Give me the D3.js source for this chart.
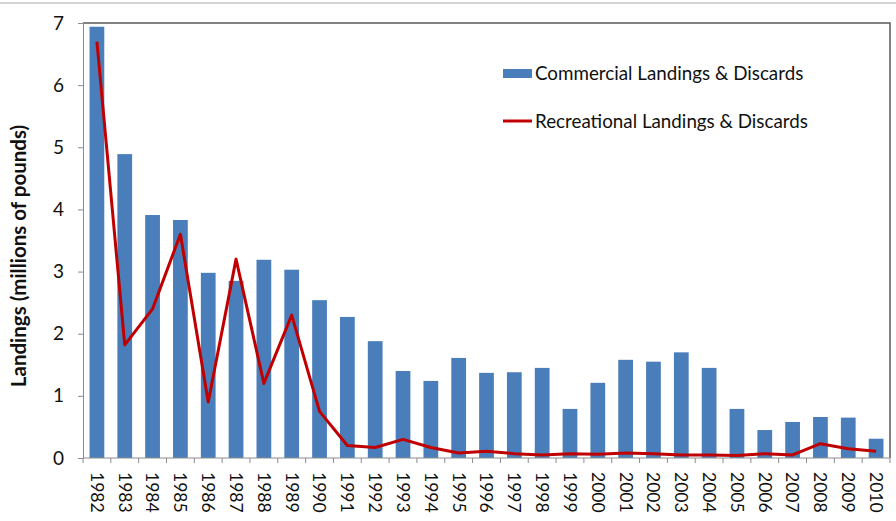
<!DOCTYPE html>
<html>
<head>
<meta charset="utf-8">
<script src="https://cdn.jsdelivr.net/npm/d3@7"></script>
<style>
  body { margin: 0; background: #fff; }
  text { font-family: Lato, "Open Sans", sans-serif; fill: #111; }
</style>
</head>
<body>
<div id="chart"></div>
<script>
const years = ["1982","1983","1984","1985","1986","1987","1988","1989","1990","1991",
    "1992","1993","1994","1995","1996","1997","1998","1999","2000","2001",
    "2002","2003","2004","2005","2006","2007","2008","2009","2010"];
const commercial = [6.94, 4.89, 3.91, 3.83, 2.98, 2.85, 3.19, 3.03, 2.54, 2.27,
    1.88, 1.40, 1.24, 1.61, 1.37, 1.38, 1.45, 0.79, 1.21, 1.58,
    1.55, 1.70, 1.45, 0.79, 0.45, 0.58, 0.66, 0.65, 0.31];
const recreational = [6.70, 1.82, 2.40, 3.60, 0.90, 3.20, 1.20, 2.30, 0.75, 0.20,
    0.17, 0.30, 0.17, 0.08, 0.11, 0.07, 0.05, 0.07, 0.06, 0.08,
    0.07, 0.05, 0.05, 0.04, 0.07, 0.05, 0.23, 0.15, 0.11];
const yTicks = [0, 1, 2, 3, 4, 5, 6, 7];
const seriesNames = ["Commercial Landings & Discards", "Recreational Landings & Discards"];

const margin = { top: 23, right: 6, bottom: 63, left: 83 };
const width = 896 - margin.left - margin.right;
const height = 521 - margin.top - margin.bottom;

const root = d3.select("#chart").append("svg")
    .attr("width", 896)
    .attr("height", 521);

// faint rule at very top of the picture
root.append("line")
    .attr("x1", 0).attr("x2", 896)
    .attr("y1", 3).attr("y2", 3)
    .style("stroke", "#d4d4d4")
    .style("stroke-width", 2);

const svg = root.append("g")
    .attr("transform", "translate(" + margin.left + "," + margin.top + ")");

// scales
const x = d3.scaleBand()
    .range([0, width])
    .domain(years)
    .paddingInner(0.47)
    .paddingOuter(0.235);

const y = d3.scaleLinear()
    .range([height, 0])
    .domain([0, 7]);

// plot frame: top and right
svg.append("path")
    .attr("d", `M0,0H${width}V${height}`)
    .style("fill", "none")
    .style("stroke", "#5a5a5a")
    .style("stroke-width", 1.5);

// bars
svg.selectAll(".bar")
    .data(commercial)
    .enter().append("rect")
    .attr("class", "bar")
    .attr("x", (d, i) => x(years[i]))
    .attr("width", x.bandwidth())
    .attr("y", d => y(d))
    .attr("height", d => height - y(d))
    .style("fill", "#4a7ebb");

// y axis
const yAxis = d3.axisLeft(y).tickValues(yTicks).tickFormat(d3.format("d")).tickSize(5).tickPadding(14);
const gy = svg.append("g").attr("class", "y-axis").call(yAxis);
gy.selectAll("line, path").style("stroke", "#8c8c8c");
gy.selectAll("text").style("font-size", "19px").style("fill", "#111");

// x axis, ticks between categories
const gx = svg.append("g")
    .attr("class", "x-axis")
    .attr("transform", `translate(0, ${height})`);
gx.append("line")
    .attr("x1", 0).attr("x2", width)
    .style("stroke", "#8c8c8c");
const step = x.step();
gx.selectAll(".tick")
    .data(d3.range(years.length + 1))
    .enter().append("line")
    .attr("class", "tick")
    .attr("x1", i => i * step).attr("x2", i => i * step)
    .attr("y1", 0).attr("y2", 5)
    .style("stroke", "#8c8c8c");
gx.selectAll(".label")
    .data(years)
    .enter().append("text")
    .attr("class", "label")
    .attr("transform", d => `translate(${x(d) + x.bandwidth() / 2}, 14) rotate(90)`)
    .attr("dy", "0.35em")
    .style("font-size", "17.5px")
    .text(d => d);

// line
const line = d3.line()
    .x((d, i) => x(years[i]) + x.bandwidth() / 2)
    .y(d => y(d));

svg.append("path")
    .datum(recreational)
    .attr("d", line)
    .style("fill", "none")
    .style("stroke", "#c00000")
    .style("stroke-width", 3)
    .style("stroke-linejoin", "round");

// y axis title
root.append("text")
    .attr("transform", "translate(19, 256) rotate(-90)")
    .attr("text-anchor", "middle")
    .attr("dy", "0.35em")
    .style("font-size", "20.5px")
    .style("font-weight", "bold")
    .text("Landings (millions of pounds)");

// legend
const legend = root.append("g").attr("transform", "translate(503, 73)");
legend.append("rect")
    .attr("x", 0).attr("y", -4)
    .attr("width", 29).attr("height", 9)
    .style("fill", "#4a7ebb");
legend.append("line")
    .attr("x1", 0).attr("x2", 29)
    .attr("y1", 48).attr("y2", 48)
    .style("stroke", "#c00000")
    .style("stroke-width", 3);
legend.selectAll(".ltext")
    .data(seriesNames)
    .enter().append("text")
    .attr("class", "ltext")
    .attr("x", 32)
    .attr("y", (d, i) => i * 48)
    .attr("dy", "0.35em")
    .style("font-size", "18.8px")
    .text(d => d);
</script>
</body>
</html>
